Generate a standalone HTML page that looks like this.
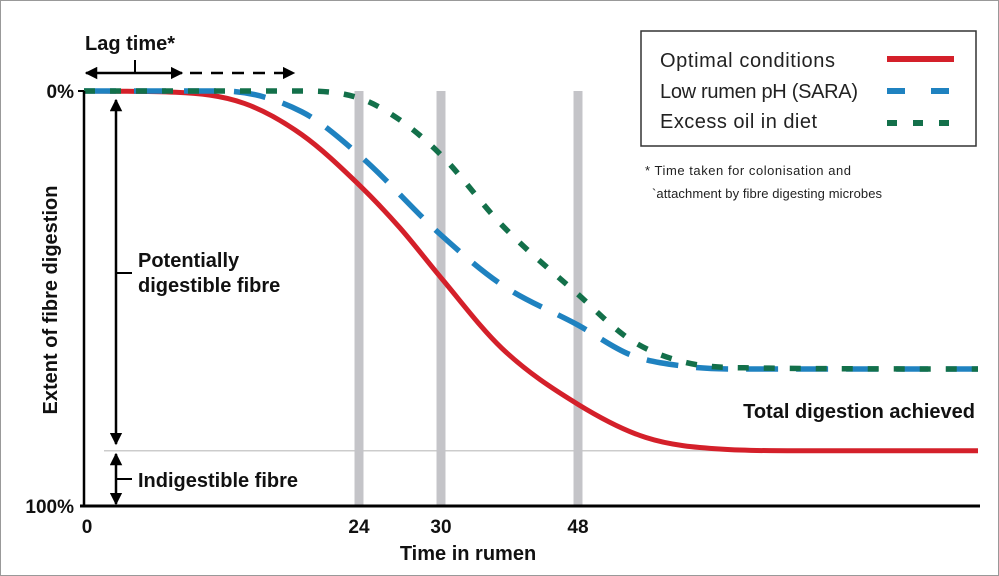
<!DOCTYPE html>
<html><head><meta charset="utf-8"><style>
html,body{margin:0;padding:0;background:#fff}
svg{display:block;font-family:"Liberation Sans",sans-serif}
.b{font-weight:bold}
</style></head><body>
<svg id="chart" width="999" height="576" viewBox="0 0 999 576">
<defs>
<marker id="ah" viewBox="0 0 10 10" refX="9" refY="5" markerWidth="5" markerHeight="5" orient="auto-start-reverse"><path d="M0,0L10,5L0,10z" fill="#000"/></marker>
</defs>
<rect x="0.5" y="0.5" width="998" height="575" fill="#fff" stroke="#999"/>
<g id="grid"></g>
<g id="series"></g>
<g id="axes"></g>
<g>
<rect x="641" y="31" width="335" height="115" fill="#fff" stroke="#333" stroke-width="1.5"/>
<text x="660" y="67" font-size="20" fill="#222" textLength="175">Optimal conditions</text>
<line x1="887" y1="59" x2="954" y2="59" stroke="#d4202a" stroke-width="6"/>
<text x="660" y="98" font-size="20" fill="#222" textLength="198">Low rumen pH (SARA)</text>
<line x1="887" y1="91" x2="954" y2="91" stroke="#1f82c0" stroke-width="6" stroke-dasharray="18,26"/>
<text x="660" y="128" font-size="20" fill="#222" textLength="157">Excess oil in diet</text>
<line x1="887" y1="123" x2="954" y2="123" stroke="#13704a" stroke-width="6" stroke-dasharray="10,16"/>
</g>
<text x="645" y="175" font-size="13" fill="#222" textLength="206">* Time taken for colonisation and</text>
<text x="652" y="198" font-size="13" fill="#222" textLength="230">`attachment by fibre digesting microbes</text>
<text x="85" y="50" font-size="20" class="b" fill="#111">Lag time*</text>
<line x1="86" y1="73" x2="182" y2="73" stroke="#000" stroke-width="2.5" marker-start="url(#ah)" marker-end="url(#ah)"/>
<line x1="135" y1="60" x2="135" y2="73" stroke="#000" stroke-width="2"/>
<line x1="190" y1="73" x2="294" y2="73" stroke="#000" stroke-width="2.5" stroke-dasharray="12,9" marker-end="url(#ah)"/>
<line x1="116" y1="100" x2="116" y2="444" stroke="#000" stroke-width="2.5" marker-start="url(#ah)" marker-end="url(#ah)"/>
<line x1="116" y1="273" x2="132" y2="273" stroke="#000" stroke-width="2"/>
<text x="138" y="267" font-size="20" class="b" fill="#111"><tspan x="138">Potentially</tspan><tspan x="138" dy="25">digestible fibre</tspan></text>
<line x1="116" y1="454" x2="116" y2="504" stroke="#000" stroke-width="2.5" marker-start="url(#ah)" marker-end="url(#ah)"/>
<line x1="116" y1="479" x2="132" y2="479" stroke="#000" stroke-width="2"/>
<text x="138" y="487" font-size="20" class="b" fill="#111">Indigestible fibre</text>
<text x="975" y="418" font-size="20" class="b" fill="#111" text-anchor="end">Total digestion achieved</text>
<text transform="translate(57,300) rotate(-90)" font-size="20" class="b" fill="#111" text-anchor="middle">Extent of fibre digestion</text>
<text x="468" y="560" font-size="20" class="b" fill="#111" text-anchor="middle">Time in rumen</text>
</svg>
<script>
const tickTimes=[0,24,30,48];
const tickLabels=["0","24","30","48"];
const timeRed=[0,8,14,19,24,27,30,38,48,57,67,77,101];
const valRed=[0,0.3,3,10.5,22.6,33,45,62,75.5,83.5,86.3,86.7,86.7];
const timeBlue=[0,12,19,24,30,38,48,55,62,70,101];
const valBlue=[0,0,5,15.4,34.7,46.7,56.4,63.6,66.3,67,67];
const timeGreen=[0,19,24,27,30,38,48,55,62,70,101];
const valGreen=[0,0,1.7,7,15.4,32.3,49,60,65.3,66.7,67];
const indigestibleLevel=86.7;

const knotsT=[0,24,30,48,101];
const knotsX=[84,359,441,578,978];
function xs(t){for(let i=0;i<knotsT.length-1;i++){if(t<=knotsT[i+1]||i===knotsT.length-2){const f=(t-knotsT[i])/(knotsT[i+1]-knotsT[i]);return knotsX[i]+f*(knotsX[i+1]-knotsX[i]);}}}
function ys(v){return 91+v/100*415;}
const NS="http://www.w3.org/2000/svg";
function mk(tag,attrs,parent){const e=document.createElementNS(NS,tag);for(const k in attrs)e.setAttribute(k,attrs[k]);parent.appendChild(e);return e;}
const grid=document.getElementById('grid'),series=document.getElementById('series'),axes=document.getElementById('axes');
const hl=mk('line',{x1:xs(0)+20,x2:xs(101),y1:ys(indigestibleLevel),y2:ys(indigestibleLevel),stroke:'#ccc','stroke-width':1.5},grid);


for(let i=1;i<tickTimes.length;i++){
 const g=mk('line',{x1:xs(tickTimes[i]),x2:xs(tickTimes[i]),y1:ys(0),y2:ys(100),stroke:'#c4c4c8','stroke-width':9},grid);
 
 
}
function mono(ts,vs){
 const x=ts.map(xs),y=vs.map(ys),n=x.length;
 const d=[],m=new Array(n);
 for(let i=0;i<n-1;i++)d.push((y[i+1]-y[i])/(x[i+1]-x[i]));
 m[0]=d[0];m[n-1]=d[n-2];
 for(let i=1;i<n-1;i++){m[i]=(d[i-1]*d[i]<=0)?0:(d[i-1]+d[i])/2;}
 for(let i=0;i<n-1;i++){if(d[i]===0){m[i]=0;m[i+1]=0;continue;}const a=m[i]/d[i],b=m[i+1]/d[i],s=a*a+b*b;if(s>9){const t=3/Math.sqrt(s);m[i]=t*a*d[i];m[i+1]=t*b*d[i];}}
 let p='M'+x[0]+','+y[0];
 for(let i=0;i<n-1;i++){const h=(x[i+1]-x[i])/3;p+=' C'+(x[i]+h)+','+(y[i]+m[i]*h)+' '+(x[i+1]-h)+','+(y[i+1]-m[i+1]*h)+' '+x[i+1]+','+y[i+1];}
 return p;
}
const r=mk('path',{d:mono(timeRed,valRed),fill:'none',stroke:'#d4202a','stroke-width':5},series);


const b=mk('path',{d:mono(timeBlue,valBlue),fill:'none',stroke:'#1f82c0','stroke-width':5.5,'stroke-dasharray':'32,18'},series);


const gr=mk('path',{d:mono(timeGreen,valGreen),fill:'none',stroke:'#13704a','stroke-width':5.5,'stroke-dasharray':'11,15'},series);


const ya=mk('line',{x1:84,x2:84,y1:ys(0),y2:ys(100)+1,stroke:'#000','stroke-width':2.5},axes);


const xa=mk('line',{x1:80,x2:xs(101)+2,y1:ys(100),y2:ys(100),stroke:'#000','stroke-width':3},axes);


const t0=mk('line',{x1:78,x2:84,y1:ys(0),y2:ys(0),stroke:'#000','stroke-width':2},axes);


const y0=mk('text',{x:74,y:ys(0)+7,'font-size':19,'font-weight':'bold','text-anchor':'end',fill:'#111'},axes);y0.textContent='0%';


const y1=mk('text',{x:74,y:ys(100)+7,'font-size':19,'font-weight':'bold','text-anchor':'end',fill:'#111'},axes);y1.textContent='100%';


tickTimes.forEach((t,i)=>{
 const tx=mk('text',{x:xs(t)+(i===0?3:0),y:533,'font-size':19,'font-weight':'bold','text-anchor':'middle',fill:'#111'},axes);
 tx.textContent=tickLabels[i];
 
 
});
</script>
</body></html>
